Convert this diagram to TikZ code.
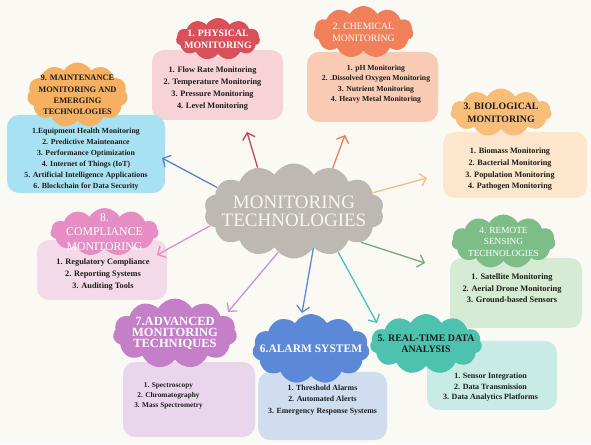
\documentclass[tikz,border=0pt]{standalone}
\usepackage{fontspec}
\setmainfont{Liberation Serif}
\usetikzlibrary{shapes.symbols}
\usetikzlibrary{arrows.meta}

\definecolor{paper}{HTML}{FBF9F4}
\definecolor{ink}{HTML}{1C1C1C}
\definecolor{physcol}{HTML}{D9505A}
\definecolor{physbg}{HTML}{F8D3D6}
\definecolor{chemcol}{HTML}{F07F5A}
\definecolor{chembg}{HTML}{F9CBB4}
\definecolor{biocol}{HTML}{F8BD78}
\definecolor{biobg}{HTML}{FCE6CC}
\definecolor{remcol}{HTML}{7DBE88}
\definecolor{rembg}{HTML}{D5EBD3}
\definecolor{realcol}{HTML}{4DC2AE}
\definecolor{realbg}{HTML}{C8ECE5}
\definecolor{alarmcol}{HTML}{5B89D8}
\definecolor{alarmbg}{HTML}{D0DDF0}
\definecolor{advcol}{HTML}{C47FC8}
\definecolor{advbg}{HTML}{E9D6EC}
\definecolor{compcol}{HTML}{E68DC3}
\definecolor{compbg}{HTML}{F4D9E8}
\definecolor{maintcol}{HTML}{F5B062}
\definecolor{maintbg}{HTML}{A8E2F2}
\definecolor{hubcol}{HTML}{BEB8B3}
\definecolor{hubtext}{HTML}{F8F4EE}

\begin{document}
\begin{tikzpicture}[x=1pt,y=1pt,
    blob/.style={cloud, cloud puffs=11, cloud puff arc=120, cloud ignores aspect, inner sep=-20pt, align=center},
    listbox/.style={rounded corners=12pt, inner sep=0pt},
    listtext/.style={align=center, text=ink},
    ray/.style={line width=1.3pt, -{Straight Barb[length=6pt,width=13pt]}}]
    \fill[paper] (0,0) rectangle (591,444);

    % boxes under the titles
    \node(physB) [listbox, fill=physbg, minimum width=131pt, minimum height=70pt] at (217.5,359) {};
    \node(chemB) [listbox, fill=chembg, minimum width=131pt, minimum height=70pt] at (372.5,357) {};
    \node(bioB) [listbox, fill=biobg, minimum width=144pt, minimum height=66pt] at (515,279) {};
    \node(remB) [listbox, fill=rembg, minimum width=132pt, minimum height=70pt] at (516,151) {};
    \node(realB) [listbox, fill=realbg, minimum width=130pt, minimum height=69pt] at (492,68.5) {};
    \node(alarmB) [listbox, fill=alarmbg, minimum width=129pt, minimum height=68pt] at (322.5,38) {};
    \node(advB) [listbox, fill=advbg, minimum width=132pt, minimum height=75pt] at (189,44.5) {};
    \node(compB) [listbox, fill=compbg, minimum width=130pt, minimum height=60pt] at (102,174) {};
    \node(maintB) [listbox, fill=maintbg, minimum width=158pt, minimum height=78pt] at (86,290) {};

    \node(physL) [listtext, font=\bfseries\fontsize{8.3}{12}\selectfont] at (212.5,355)
        {1. Flow Rate Monitoring\\2. Temperature Monitoring\\3. Pressure Monitoring\\4. Level Monitoring};
    \node(chemL) [listtext, font=\bfseries\fontsize{7.7}{10.5}\selectfont] at (376,360)
        {1. pH Monitoring\\2. .Dissolved Oxygen Monitoring\\3. Nutrient Monitoring\\4. Heavy Metal Monitoring};
    \node(bioL) [listtext, font=\bfseries\fontsize{8.2}{11.7}\selectfont] at (510,274.5)
        {1. Biomass Monitoring\\2. Bacterial Monitoring\\3. Population Monitoring\\4. Pathogen Monitoring};
    \node(remL) [listtext, font=\bfseries\fontsize{8.4}{11.5}\selectfont] at (512,155.5)
        {1. Satellite Monitoring\\2. Aerial Drone Monitoring\\3. Ground-based Sensors};
    \node(realL) [listtext, font=\bfseries\fontsize{8}{10.5}\selectfont] at (490.5,56.5)
        {1. Sensor Integration\\2. Data Transmission\\3. Data Analytics Platforms};
    \node(alarmL) [listtext, font=\bfseries\fontsize{7.85}{11.5}\selectfont] at (322.5,44)
        {1. Threshold Alarms\\2. Automated Alerts\\3. Emergency Response Systems};
    \node(advL) [listtext, font=\bfseries\fontsize{7.3}{10}\selectfont] at (168.5,48)
        {1. Spectroscopy\\2. Chromatography\\3. Mass Spectrometry};
    \node(compL) [listtext, font=\bfseries\fontsize{8.3}{12}\selectfont] at (103,169)
        {1. Regulatory Compliance\\2. Reporting Systems\\3. Auditing Tools};
    \node(maintL) [listtext, font=\bfseries\fontsize{7.8}{11}\selectfont] at (86,284.5)
        {1.Equipment Health Monitoring\\2. Predictive Maintenance\\3. Performance Optimization\\4. Internet of Things (IoT)\\5. Artificial Intelligence Applications\\6. Blockchain for Data Security};

    % title clouds
    \node(physT) [blob, fill=physcol, text=white, minimum width=84pt, minimum height=42pt,
        font=\bfseries\fontsize{9.8}{12}\selectfont] at (218,405) {1. PHYSICAL\\MONITORING};
    \node(chemT) [blob, fill=chemcol, text=white, minimum width=100pt, minimum height=52pt,
        font=\fontsize{9.7}{12}\selectfont] at (363.5,412) {2. CHEMICAL\\MONITORING};
    \node(bioT) [blob, fill=biocol, text=ink, minimum width=101pt, minimum height=48pt,
        font=\bfseries\fontsize{9.8}{13}\selectfont] at (501,331.5) {3. BIOLOGICAL\\MONITORING};
    \node(remT) [blob, fill=remcol, text=white, minimum width=104pt, minimum height=54pt,
        font=\fontsize{9.3}{11.5}\selectfont] at (503.5,202.5) {4. REMOTE\\SENSING\\TECHNOLOGIES};
    \node(realT) [blob, fill=realcol, text=ink, minimum width=112pt, minimum height=60pt,
        font=\bfseries\fontsize{9.9}{11}\selectfont] at (426,100) {5. REAL-TIME DATA\\ANALYSIS};
    \node(alarmT) [blob, fill=alarmcol, text=white, minimum width=117pt, minimum height=70pt,
        font=\bfseries\fontsize{11.5}{13}\selectfont] at (311,95) {6.ALARM SYSTEM};
    \node(advT) [blob, fill=advcol, text=white, minimum width=124pt, minimum height=70pt,
        font=\bfseries\fontsize{12.5}{11}\selectfont] at (175,110.5) {7.ADVANCED\\MONITORING\\TECHNIQUES};
    \node(compT) [blob, fill=compcol, text=white, minimum width=108pt, minimum height=48pt,
        font=\fontsize{11.8}{14.5}\selectfont] at (104.5,212) {8.\\COMPLIANCE\\MONITORING};
    \node(maintT) [blob, fill=maintcol, text=ink, minimum width=101pt, minimum height=65pt,
        font=\bfseries\fontsize{8.4}{11.3}\selectfont] at (77.5,349) {9. MAINTENANCE\\MONITORING AND\\EMERGING\\TECHNOLOGIES};

    % centre
    \node(hub) [blob, cloud puffs=14, fill=hubcol, text=hubtext, minimum width=180pt, minimum height=95pt,
        font=\fontsize{19}{18}\selectfont] at (294,233) {MONITORING\\TECHNOLOGIES};

    \coordinate(physA) at (247,312);
    \coordinate(chemA) at (345,309);
    \coordinate(bioA) at (427,266);
    \coordinate(remA) at (425,181);
    \coordinate(realA) at (377,121);
    \coordinate(alarmA) at (302,131);
    \coordinate(advA) at (228,132);
    \coordinate(compA) at (157,189);
    \coordinate(maintA) at (162,286);

    \draw[ray, draw=physcol!90!black] (hub.130) -- (physA);
    \draw[ray, draw=chemcol] (hub.48) -- (chemA);
    \draw[ray, draw=biocol] (hub.13) -- (bioA);
    \draw[ray, draw=remcol!90!black] (hub.-25) -- (remA);
    \draw[ray, draw=realcol] (hub.-43) -- (realA);
    \draw[ray, draw=alarmcol] (hub.-62) -- (alarmA);
    \draw[ray, draw=advcol!85!white] (hub.-111) -- (advA);
    \draw[ray, draw=compcol] (hub.190) -- (compA);
    \draw[ray, draw=alarmcol!95!black] (hub.163) -- (maintA);
\end{tikzpicture}
\end{document}
